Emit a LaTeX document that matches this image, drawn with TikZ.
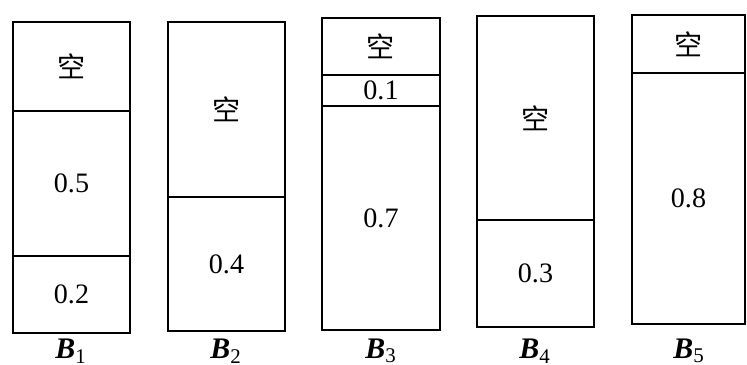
\documentclass[tikz,border=0pt]{standalone}
\usepackage{fontspec}
\setmainfont{Liberation Serif}
\newfontfamily\cjk{Noto Sans CJK SC}
\usepackage{tikz}
\usetikzlibrary{positioning}
\tikzset{
  seg/.style={draw,line width=0.8pt},
  segtext/.style={font=\fontsize{16}{18}\selectfont},
  binlabel/.style={font=\fontsize{17}{19}\selectfont\bfseries\itshape}
}
\newcommand{\kong}{{\cjk 空}}

\begin{document}
\begin{tikzpicture}[x=0.02cm,y=-0.02cm]
  \useasboundingbox (0,0) rectangle (747,365);
  % one rectangle per filled or empty part of a bin
  \foreach \nm/\xl/\xr/\yt/\yb/\t in {
      aone/13/130/22/111/\kong, bone/13/130/111/256/0.5, cone/13/130/256/333/0.2,
      atwo/168/285/22/197/\kong, btwo/168/285/197/331/0.4,
      athree/322/440/18/75/\kong, bthree/322/440/75/106/0.1, cthree/322/440/106/330/0.7,
      afour/477/594/16/220/\kong, bfour/477/594/220/327/0.3,
      afive/632/745/15/73/\kong, bfive/632/745/73/324/0.8}{
    \draw[seg] (\xl,\yt) rectangle (\xr,\yb);
    \node[segtext] (\nm) at ({(\xl+\xr)/2},{(\yt+\yb)/2}) {\t};}
  % bin names
  \foreach \i/\x in {1/71,2/226,3/381,4/535,5/689}{
    \node[binlabel] (lab\i) at (\x,351) {B$_{\mathrm{\i}}$};}
\end{tikzpicture}
\end{document}
